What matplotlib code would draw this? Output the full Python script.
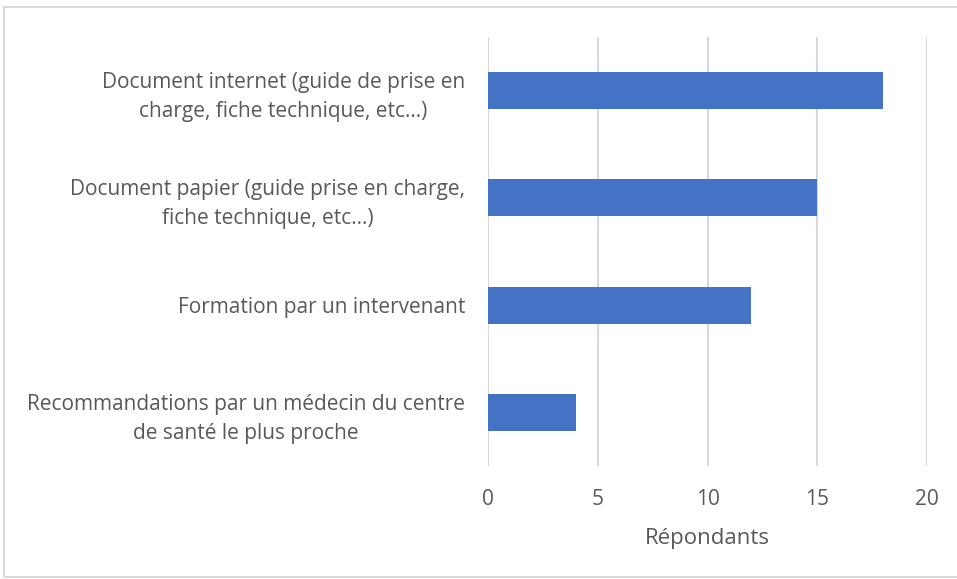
import matplotlib.pyplot as plt
from matplotlib.patches import Rectangle

categories = [
    "Document internet (guide de prise en\ncharge, fiche technique, etc…)",
    "Document papier (guide prise en charge,\nfiche technique, etc…)",
    "Formation par un intervenant",
    "Recommandations par un médecin du centre\nde santé le plus proche",
]
values = [18, 15, 12, 4]
xticks = [0, 5, 10, 15, 20]

W, H = 957, 579
fig = plt.figure(figsize=(W / 100, H / 100), dpi=100)
ax = fig.add_axes([488 / W, 1 - 466 / H, (927 - 488) / W, (466 - 37) / H])

text_color = '#595959'
grid_color = '#D9D9D9'

pos = list(range(len(categories)))[::-1]
ax.barh(pos, values, height=0.345, color='#4472C4', zorder=3)

ax.set_xlim(0, 20)
ax.set_ylim(-0.5, len(categories) - 0.5)
ax.set_xticks(xticks)
ax.set_yticks(pos)
ax.set_yticklabels(categories, family='Open Sans', fontsize=15, color=text_color,
                   multialignment='center', linespacing=1.5)
ax.tick_params(axis='y', length=0, pad=16.5)
ax.tick_params(axis='x', length=0, pad=16.5, labelsize=15, labelcolor=text_color)
for lab in ax.get_xticklabels():
    lab.set_family('Open Sans')
ax.xaxis.grid(True, color=grid_color, linewidth=1.5, zorder=0)
for s in ax.spines.values():
    s.set_visible(False)

ax.set_xlabel('Répondants', family='Open Sans', fontsize=16, color=text_color, labelpad=13)

# chart border
fig.patches.append(Rectangle((4 / W, 0.004), 1, 1 - 7 / H - 0.004, transform=fig.transFigure,
                             fill=False, edgecolor=grid_color, linewidth=1.5))

fig.savefig('out.png', dpi=100)
